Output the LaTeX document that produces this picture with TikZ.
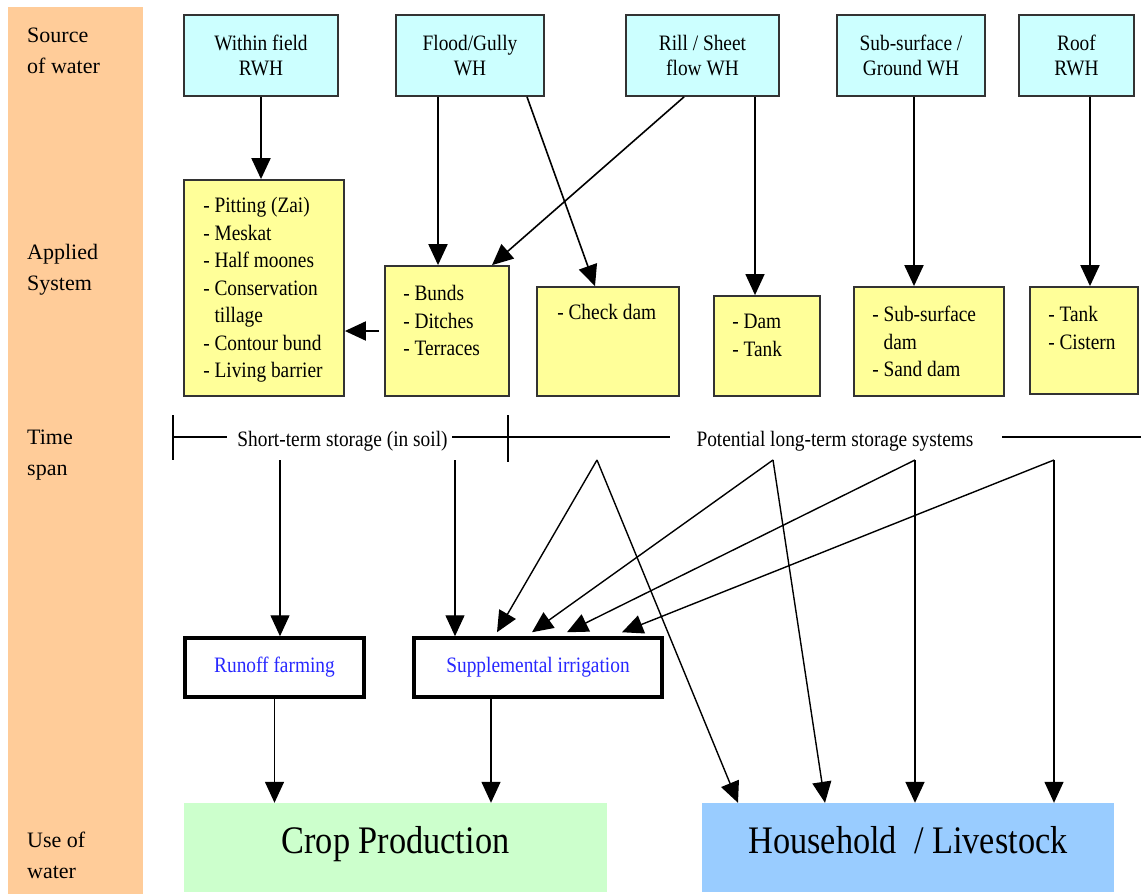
\documentclass[tikz,border=0pt]{standalone}
\usepackage{fontspec}
\setmainfont{Liberation Serif}[FakeStretch=0.88]
\newfontfamily\sidefont{Liberation Serif}
\usetikzlibrary{arrows.meta,calc}
\definecolor{bandorange}{HTML}{FFCC99}
\definecolor{srcblue}{HTML}{CCFFFF}
\definecolor{sysyellow}{HTML}{FFFF99}
\definecolor{cropgreen}{HTML}{CCFFCC}
\definecolor{houseblue}{HTML}{99CCFF}
\definecolor{linkblue}{HTML}{2828FF}

\begin{document}
\begin{tikzpicture}[x=1pt, y=-1pt, >={Triangle[length=21pt,width=19pt]}]
    \tikzstyle{srcbox}=[rectangle, draw=black!80, line width=1.8pt, fill=srcblue, minimum height=81pt, align=center, font=\fontsize{22}{25}\selectfont]
    \tikzstyle{sysbox}=[rectangle, draw=black!80, line width=1.8pt, fill=sysyellow]
    \tikzstyle{syslist}=[anchor=north west, inner sep=0pt, align=left, font=\fontsize{22}{27.5}\selectfont]
    \tikzstyle{usebox}=[rectangle, draw=black, line width=3.5pt, fill=white, minimum height=59pt, text=linkblue, font=\fontsize{22}{25}\selectfont]
    \tikzstyle{goalbox}=[rectangle, minimum height=89pt, text height=20pt, text depth=9pt, font=\fontsize{39}{44}\selectfont]
    \tikzstyle{rowlabel}=[anchor=north west, inner sep=0pt, align=left, font=\sidefont\fontsize{22}{31}\selectfont]
    \tikzstyle{spanlabel}=[inner sep=0pt, font=\fontsize{22}{25}\selectfont]
    \tikzstyle{heavy}=[->, line width=2pt]
    \tikzstyle{light}=[->, line width=1.4pt]

    \useasboundingbox (0,0) rectangle (1141,894);
    \fill[bandorange] (8,7) rectangle (143,894);

    \node[rowlabel] (lsource) at (27,27.5) {Source\\of water};
    \node[rowlabel] (lsystem) at (27,244.5) {Applied\\System};
    \node[rowlabel] (lspan) at (27,429.5) {Time\\span};
    \node[rowlabel] (luse) at (27,831.5) {Use of\\water};

    \node[srcbox, minimum width=154pt] (within) at (261,55.5) {Within field\\RWH};
    \node[srcbox, minimum width=148pt] (flood) at (470,55.5) {Flood/Gully\\WH};
    \node[srcbox, minimum width=153pt] (rill) at (702.5,55.5) {Rill / Sheet\\flow WH};
    \node[srcbox, minimum width=148pt] (subsrc) at (911,55.5) {Sub-surface /\\Ground WH};
    \node[srcbox, minimum width=115pt] (roof) at (1076.5,55.5) {Roof\\RWH};

    \node[sysbox, minimum width=160pt, minimum height=216pt] (pitting) at (264,288) {};
    \node[sysbox, minimum width=124pt, minimum height=130pt] (bunds) at (447,331) {};
    \node[sysbox, minimum width=142pt, minimum height=109pt] (checkdam) at (608,341.5) {};
    \node[sysbox, minimum width=106pt, minimum height=100pt] (damtank) at (767,346) {};
    \node[sysbox, minimum width=150pt, minimum height=109pt] (subdam) at (929,341.5) {};
    \node[sysbox, minimum width=108pt, minimum height=107pt] (cistern) at (1084,340.5) {};

    \node[syslist] (pittinglist) at ([shift={(20,18)}]pitting.north west) {- Pitting (Zai)\\- Meskat\\- Half moones\\- Conservation\\\hphantom{- }tillage\\- Contour bund\\- Living barrier};
    \node[syslist] (bundslist) at ([shift={(19,20)}]bunds.north west) {- Bunds\\- Ditches\\- Terraces};
    \node[syslist] (checkdamlist) at ([shift={(21,18)}]checkdam.north west) {- Check dam};
    \node[syslist] (damtanklist) at ([shift={(19,19)}]damtank.north west) {- Dam\\- Tank};
    \node[syslist] (subdamlist) at ([shift={(19,20)}]subdam.north west) {- Sub-surface\\\hphantom{- }dam\\- Sand dam};
    \node[syslist] (cisternlist) at ([shift={(19,20)}]cistern.north west) {- Tank\\- Cistern};

    \draw[heavy] (within.south) -- (within.south |- pitting.north);
    \draw[heavy] ([xshift=-32pt]flood.south) -- ([xshift=-9pt]bunds.north);
    \draw[->, line width=1.6pt] ([xshift=57pt]flood.south) -- ([xshift=-13pt]checkdam.north);
    \draw[->, line width=1.6pt] ([xshift=-18.5pt]rill.south) -- ([xshift=45pt]bunds.north);
    \draw[light] ([xshift=52.5pt]rill.south) -- ([xshift=-12pt]damtank.north);
    \draw[heavy] ([xshift=3pt]subsrc.south) -- ([xshift=-15pt]subdam.north);
    \draw[heavy] ([xshift=13.5pt]roof.south) -- ([xshift=6pt]cistern.north);
    \draw[heavy] ([xshift=-5pt]bunds.west) -- (bunds.west -| pitting.east);

    \node[spanlabel] (shortterm) at (342.5,441) {Short-term storage (in soil)};
    \node[spanlabel] (longterm) at (835,441) {Potential long-term storage systems};
    \draw[line width=1.3pt] (173,415) -- (173,460);
    \draw[line width=2.2pt] (508,415) -- (508,462);
    \draw[line width=1.3pt] (173,437) -- (227,437) (452,437) -- (670,437) (1002,437) -- (1141,437);

    \node[usebox, minimum width=179pt] (runoff) at (274.5,667.5) {Runoff farming};
    \node[usebox, minimum width=248pt] (supp) at (538,667.5) {Supplemental irrigation};

    \node[goalbox, fill=cropgreen, minimum width=423pt] (crop) at (395.5,847.5) {Crop Production};
    \node[goalbox, fill=houseblue, minimum width=412pt] (house) at (908,847.5) {Household\ \ / Livestock};

    \coordinate (soilA) at (280,460);
    \coordinate (soilB) at (455,460);
    \coordinate (fanA) at (597,460);
    \coordinate (fanB) at (773,460);
    \coordinate (fanC) at (915,460);
    \coordinate (fanD) at (1054,460);

    \draw[light] (soilA) -- (soilA |- runoff.north);
    \draw[light] (soilB) -- (soilB |- supp.north);
    \draw[light] (fanA) -- ([xshift=-41pt,yshift=4pt]supp.north);
    \draw[light] (fanB) -- ([xshift=-6pt,yshift=4pt]supp.north);
    \draw[light] (fanC) -- ([xshift=29pt,yshift=4pt]supp.north);
    \draw[light] (fanD) -- ([xshift=84pt,yshift=4pt]supp.north);
    \draw[light] (fanA) -- ([xshift=-170pt]house.north);
    \draw[light] (fanB) -- ([xshift=-83pt]house.north);
    \draw[->, line width=1.8pt] (fanC) -- (fanC |- house.north);
    \draw[light] (fanD) -- (fanD |- house.north);

    \draw[light] (runoff.south) -- (runoff.south |- crop.north);
    \draw[light] ([xshift=-47pt]supp.south) -- ([xshift=95.5pt]crop.north);
\end{tikzpicture}
\end{document}
